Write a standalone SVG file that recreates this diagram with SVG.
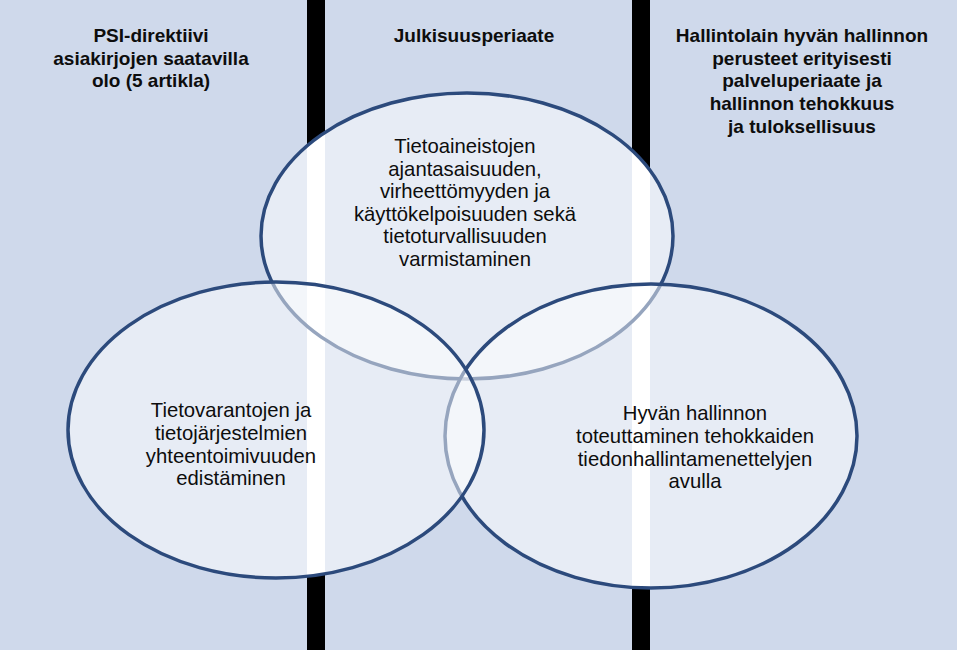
<svg xmlns="http://www.w3.org/2000/svg" width="957" height="650" viewBox="0 0 957 650">
<style>
.hdr{font-family:"Liberation Sans",Arial,sans-serif;font-weight:bold;font-size:19px;fill:#0d0d0d;text-anchor:middle}
.txt{font-family:"Liberation Sans",Arial,sans-serif;font-size:20.3px;fill:#0d0d0d;text-anchor:middle}
.ell{fill:#ffffff;fill-opacity:0.5;stroke:#2c4a7c;stroke-width:3.5}
</style>
<defs>
<clipPath id="ellClip">
<ellipse cx="467" cy="236" rx="206" ry="143"/>
<ellipse cx="651" cy="436" rx="206" ry="152"/>
<ellipse cx="276" cy="430" rx="208" ry="148"/>
</clipPath>
</defs>
<g id="background">
<rect x="0" y="0" width="957" height="650" fill="#cfd9eb"/>
<rect x="307" y="0" width="18" height="650" fill="#000000"/>
<rect x="632" y="0" width="18" height="650" fill="#000000"/>
<g clip-path="url(#ellClip)">
<rect x="307" y="0" width="18" height="650" fill="#ffffff"/>
<rect x="632" y="0" width="18" height="650" fill="#ffffff"/>
</g>
</g>
<g id="headers">
<text class="hdr" x="151" y="42">PSI-direktiivi</text>
<text class="hdr" x="151" y="65">asiakirjojen saatavilla</text>
<text class="hdr" x="151" y="87">olo (5 artikla)</text>
<text class="hdr" x="474" y="42">Julkisuusperiaate</text>
<text class="hdr" x="802" y="42">Hallintolain hyvän hallinnon</text>
<text class="hdr" x="802" y="65">perusteet erityisesti</text>
<text class="hdr" x="802" y="87">palveluperiaate ja</text>
<text class="hdr" x="802" y="110">hallinnon tehokkuus</text>
<text class="hdr" x="802" y="133">ja tuloksellisuus</text>
</g>
<g id="node-top">
<ellipse class="ell" cx="467" cy="236" rx="206" ry="143"/>
<text class="txt" x="465" y="153">Tietoaineistojen</text>
<text class="txt" x="465" y="176">ajantasaisuuden,</text>
<text class="txt" x="465" y="198">virheettömyyden ja</text>
<text class="txt" x="465" y="221">käyttökelpoisuuden sekä</text>
<text class="txt" x="465" y="243">tietoturvallisuuden</text>
<text class="txt" x="465" y="266">varmistaminen</text>
</g>
<g id="node-right">
<ellipse class="ell" cx="651" cy="436" rx="206" ry="152"/>
<text class="txt" x="695" y="420">Hyvän hallinnon</text>
<text class="txt" x="695" y="443">toteuttaminen tehokkaiden</text>
<text class="txt" x="695" y="466">tiedonhallintamenettelyjen</text>
<text class="txt" x="695" y="488">avulla</text>
</g>
<g id="node-left">
<ellipse class="ell" cx="276" cy="430" rx="208" ry="148"/>
<text class="txt" x="231" y="417">Tietovarantojen ja</text>
<text class="txt" x="231" y="440">tietojärjestelmien</text>
<text class="txt" x="231" y="463">yhteentoimivuuden</text>
<text class="txt" x="231" y="485">edistäminen</text>
</g>
<g id="connectors"></g>
</svg>
